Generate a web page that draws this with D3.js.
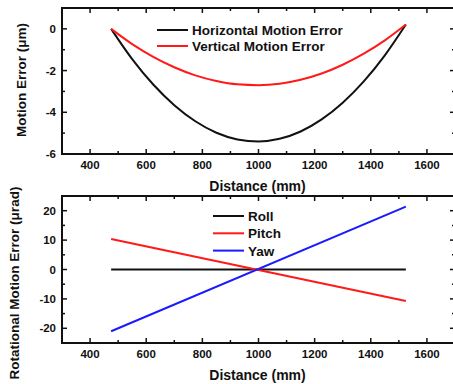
<!DOCTYPE html>
<html>
<head>
<meta charset="utf-8">
<script src="https://cdn.jsdelivr.net/npm/d3@7"></script>
<style>
  body { margin: 0; background: #fff; }
  svg text { font-family: "Liberation Sans", Arial, sans-serif; font-weight: bold; fill: #111; }
</style>
</head>
<body>
<svg id="chart" width="453" height="384"></svg>
<script>
// distance samples (mm)
const distance = [475, 550, 625, 700, 775, 850, 925, 1000, 1075, 1150, 1225, 1300, 1375, 1450, 1525];
// straightness errors (um)
const horizontalError = [0, -1.45, -2.67, -3.66, -4.43, -4.98, -5.30, -5.40, -5.27, -4.92, -4.34, -3.54, -2.52, -1.27, 0.21];
const verticalError = [0, -0.73, -1.34, -1.84, -2.23, -2.50, -2.66, -2.70, -2.63, -2.44, -2.14, -1.72, -1.19, -0.55, 0.21];

// rotational errors (urad), straight lines -> endpoints
const rotDistance = [475, 1525];
const roll = [0, 0];
const pitch = [10.4, -10.7];
const yaw = [-21, 21.4];

const xTicks = [400, 600, 800, 1000, 1200, 1400, 1600];
const topYTicks = [0, -2, -4, -6];
const botYTicks = [20, 10, 0, -10, -20];

const svg = d3.select("#chart");

// draw one framed panel
function drawPanel(opts) {
  const { top, bottom, left, right, yDomain, yTicks, yMinor, series, legend, yTitle, yTitleX, yTitleY } = opts;

  const x = d3.scaleLinear().domain([300, 1700]).range([left, right]);
  const y = d3.scaleLinear().domain(yDomain).range([bottom, top]);

  const g = svg.append("g");

  // ticks point inward, on all four sides
  const xMinor = d3.range(300, 1701, 100).filter(v => !xTicks.includes(v));
  const tickLines = [];
  xTicks.forEach(v => {
    tickLines.push([x(v), bottom, x(v), bottom - 5]);
    tickLines.push([x(v), top, x(v), top + 5]);
  });
  xMinor.forEach(v => {
    tickLines.push([x(v), bottom, x(v), bottom - 3]);
    tickLines.push([x(v), top, x(v), top + 3]);
  });
  yTicks.forEach(v => {
    tickLines.push([left, y(v), left + 5, y(v)]);
    tickLines.push([right, y(v), right - 5, y(v)]);
  });
  yMinor.forEach(v => {
    tickLines.push([left, y(v), left + 3, y(v)]);
    tickLines.push([right, y(v), right - 3, y(v)]);
  });

  g.selectAll(".tick")
    .data(tickLines)
    .enter()
    .append("line")
    .attr("x1", d => d[0]).attr("y1", d => d[1])
    .attr("x2", d => d[2]).attr("y2", d => d[3])
    .attr("stroke", "#111")
    .attr("stroke-width", 1.5);

  // tick labels
  g.selectAll(".xl")
    .data(xTicks)
    .enter()
    .append("text")
    .attr("x", d => x(d))
    .attr("y", bottom + 15)
    .attr("text-anchor", "middle")
    .attr("font-size", 11.5)
    .text(d => d);

  g.selectAll(".yl")
    .data(yTicks)
    .enter()
    .append("text")
    .attr("x", left - 6)
    .attr("y", d => y(d) + 4)
    .attr("text-anchor", "end")
    .attr("font-size", 11.5)
    .text(d => d);

  // x title
  g.append("text")
    .attr("x", (left + right) / 2 - 1)
    .attr("y", bottom + 37)
    .attr("text-anchor", "middle")
    .attr("font-size", 14)
    .text("Distance (mm)");

  // y title
  g.append("text")
    .attr("transform", `translate(${yTitleX},${yTitleY}) rotate(-90)`)
    .attr("text-anchor", "middle")
    .attr("font-size", 13.5)
    .text(yTitle);

  // data lines
  const line = d3.line()
    .x(d => x(d[0]))
    .y(d => y(d[1]))
    .curve(d3.curveMonotoneX);

  series.forEach(s => {
    g.append("path")
      .datum(s.xs.map((v, i) => [v, s.ys[i]]))
      .attr("fill", "none")
      .attr("stroke", s.color)
      .attr("stroke-width", 2)
      .attr("d", line);
  });

  // legend
  series.forEach((s, i) => {
    const ly = legend.y + i * legend.step;
    g.append("line")
      .attr("x1", legend.x).attr("x2", legend.x + legend.len)
      .attr("y1", ly).attr("y2", ly)
      .attr("stroke", s.color)
      .attr("stroke-width", 2);
    g.append("text")
      .attr("x", legend.x + legend.len + 4)
      .attr("y", ly + 5)
      .attr("font-size", 13.5)
      .text(s.name);
  });

  // frame
  g.append("rect")
    .attr("x", left).attr("y", top)
    .attr("width", right - left).attr("height", bottom - top)
    .attr("fill", "none")
    .attr("stroke", "#111")
    .attr("stroke-width", 2);
}

drawPanel({
  top: 8, bottom: 154, left: 62, right: 455,
  yDomain: [-6, 1],
  yTicks: topYTicks,
  yMinor: [1, -1, -3, -5],
  yTitle: "Motion Error (\u03bcm)",
  yTitleX: 26,
  yTitleY: 80,
  legend: { x: 157, y: 30, step: 16, len: 31 },
  series: [
    { name: "Horizontal Motion Error", color: "#111", xs: distance, ys: horizontalError },
    { name: "Vertical Motion Error", color: "#ff1a1a", xs: distance, ys: verticalError }
  ]
});

drawPanel({
  top: 196, bottom: 343, left: 62, right: 455,
  yDomain: [-25, 25],
  yTicks: botYTicks,
  yMinor: [15, 5, -5, -15],
  yTitle: "Rotational Motion Error (\u03bcrad)",
  yTitleX: 19,
  yTitleY: 283,
  legend: { x: 213, y: 216, step: 17.3, len: 31 },
  series: [
    { name: "Roll", color: "#111", xs: rotDistance, ys: roll },
    { name: "Pitch", color: "#ff1a1a", xs: rotDistance, ys: pitch },
    { name: "Yaw", color: "#1a1aff", xs: rotDistance, ys: yaw }
  ]
});
</script>
</body>
</html>
